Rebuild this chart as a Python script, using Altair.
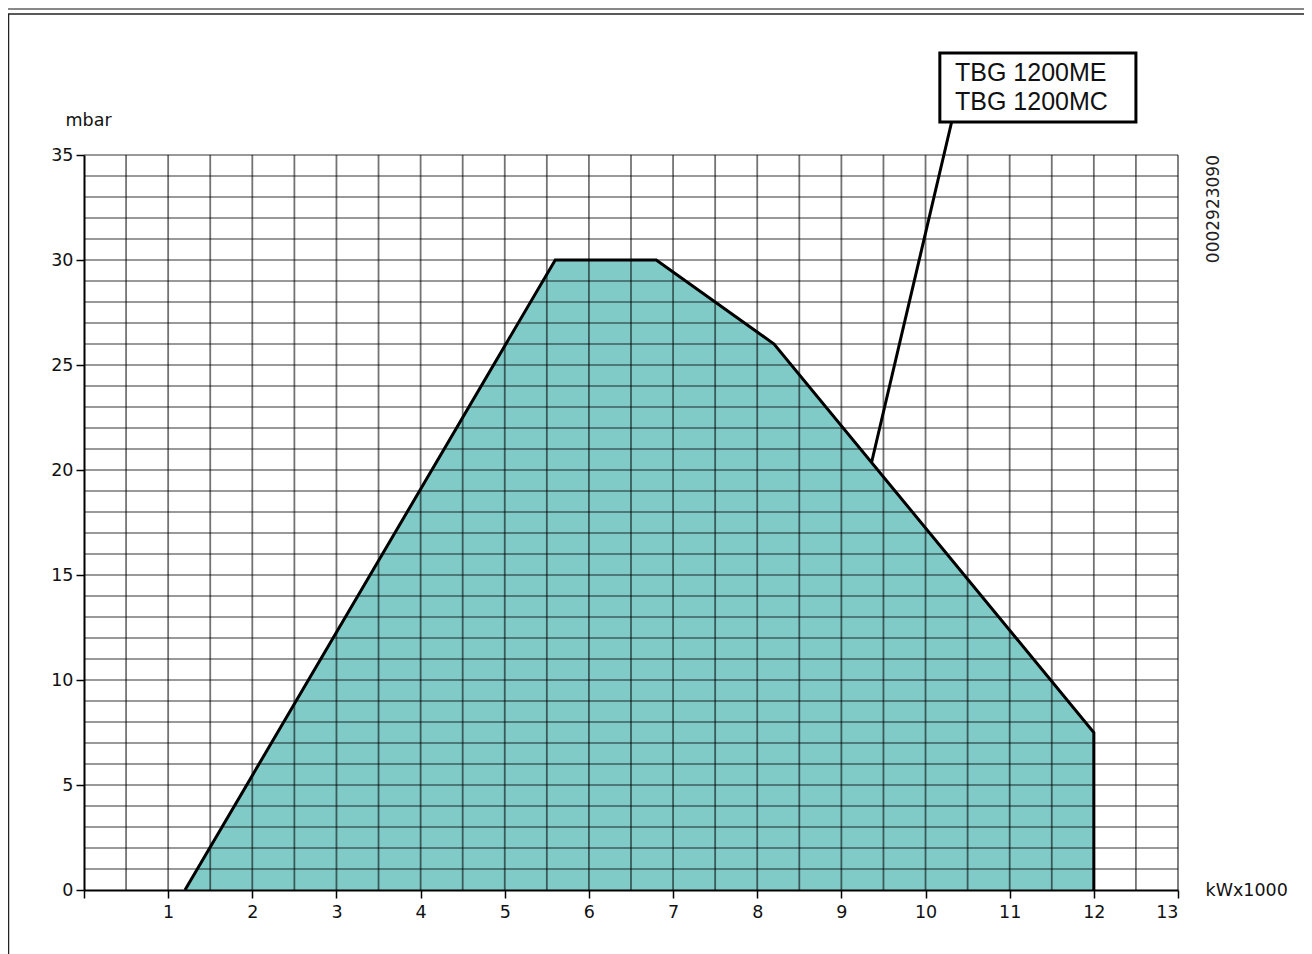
import altair as alt
import pandas as pd

# ---- data ----
env_x = [1.2, 5.6, 6.8, 8.2, 12.0, 12.0]
env_y = [0.0, 30.0, 30.0, 26.0, 7.5, 0.0]
x_ticks = [0, 1, 2, 3, 4, 5, 6, 7, 8, 9, 10, 11, 12, 13]
y_ticks = [0, 5, 10, 15, 20, 25, 30, 35]
x_grid = [0.5, 1, 1.5, 2, 2.5, 3, 3.5, 4, 4.5, 5, 5.5, 6, 6.5, 7, 7.5,
          8, 8.5, 9, 9.5, 10, 10.5, 11, 11.5, 12, 12.5, 13]
y_grid = [1, 2, 3, 4, 5, 6, 7, 8, 9, 10, 11, 12, 13, 14, 15, 16, 17, 18,
          19, 20, 21, 22, 23, 24, 25, 26, 27, 28, 29, 30, 31, 32, 33, 34, 35]
model_lines = ["TBG 1200ME", "TBG 1200MC"]
drawing_code = "0002923090"
x_title = "kWx1000"
y_title = "mbar"

W, H = 1094, 735
PAD = {"left": 76, "top": 147, "right": 126, "bottom": 64}
LBL_FONT = "DejaVu Sans"
FS = 17.5

xs = alt.Scale(domain=[0, 13], nice=False, zero=False)
ys = alt.Scale(domain=[0, 35], nice=False, zero=False)

x_axis = alt.Axis(
    values=x_ticks, grid=False, title=x_title,
    labelExpr="datum.value == 0 ? '' : datum.label",
    domainColor="#000", domainWidth=2, tickColor="#000", tickWidth=1.5,
    tickSize=8, labelFont=LBL_FONT, labelFontSize=FS, labelColor="#111",
    labelPadding=5, titleFont=LBL_FONT, titleFontSize=FS,
    titleFontWeight="normal", titleColor="#111", titleAlign="left",
    titleBaseline="middle", titleX=1121, titleY=0, zindex=1)
y_axis = alt.Axis(
    values=y_ticks, grid=False, title=y_title,
    domainColor="#000", domainWidth=2, tickColor="#000", tickWidth=1.5,
    tickSize=8, labelFont=LBL_FONT, labelFontSize=FS, labelColor="#111",
    labelPadding=3, titleFont=LBL_FONT, titleFontSize=FS,
    titleFontWeight="normal", titleColor="#111", titleAngle=0,
    titleAlign="left", titleBaseline="alphabetic", titleX=-19,
    titleY=-30, zindex=1)


def X(f="x"):
    return alt.X(f"{f}:Q", scale=xs, axis=x_axis)


def Y(f="y"):
    return alt.Y(f"{f}:Q", scale=ys, axis=y_axis)


env = pd.DataFrame({"x": env_x, "y": env_y, "o": list(range(len(env_x)))})

area = alt.Chart(env.iloc[:-1]).mark_area(color="#80CBC8", opacity=1).encode(
    x=X(), y=Y())

vgrid = alt.Chart(pd.DataFrame({"x": x_grid})).mark_rule(
    color="#000", opacity=0.55, strokeWidth=1.8).encode(x=X())

hgrid = alt.Chart(pd.DataFrame({"y": y_grid})).mark_rule(
    color="#000", opacity=0.8, strokeWidth=1.2).encode(y=Y())

outline = alt.Chart(env).mark_line(color="#000", strokeWidth=3).encode(
    x=X(), y=Y(), order="o:Q")

leader = alt.Chart(pd.DataFrame({"x": [10.31], "y": [36.57],
                                 "x2": [9.36], "y2": [20.38]})).mark_rule(
    color="#000", strokeWidth=3).encode(
    x=X(), y=Y(), x2="x2:Q", y2="y2:Q")

box = alt.Chart(pd.DataFrame({"x": [10.17], "x2": [12.5],
                              "y": [36.57], "y2": [39.86]})).mark_rect(
    fill="white", stroke="#000", strokeWidth=3).encode(
    x=X(), x2="x2:Q", y=Y(), y2="y2:Q")

box_text = alt.Chart(pd.DataFrame({"t": model_lines, "x": [10.35, 10.35],
                                   "y": [38.9, 37.52]})).mark_text(
    font="Liberation Sans", fontSize=25, align="left", baseline="middle",
    color="#111").encode(x=X(), y=Y(), text="t:N")

code_text = alt.Chart(pd.DataFrame({"t": [drawing_code], "x": [13.43],
                                    "y": [35.0]})).mark_text(
    font=LBL_FONT, fontSize=17, angle=270, align="right", baseline="middle",
    color="#222").encode(x=X(), y=Y(), text="t:N")

# decorative page frame
frame_left = alt.Chart(pd.DataFrame({"a": [0]})).mark_rule(
    color="#222", strokeWidth=1.5).encode(
    x=alt.value(-75.5), y=alt.value(-141), y2=alt.value(H + 70))
frame_top = alt.Chart(pd.DataFrame({"a": [0]})).mark_rule(
    color="#222", strokeWidth=1.5).encode(
    x=alt.value(-76), x2=alt.value(W + 130), y=alt.value(-141))
top_grey = alt.Chart(pd.DataFrame({"a": [0]})).mark_rule(
    color="#888", strokeWidth=2).encode(
    x=alt.value(-80), x2=alt.value(W + 130), y=alt.value(-146))

chart = alt.layer(area, vgrid, hgrid, outline, leader, box, box_text,
                  code_text, frame_left, frame_top, top_grey).properties(
    width=W, height=H, padding=PAD,
    autosize=alt.AutoSizeParams(type="none"),
    background="white",
).configure_view(stroke=None)

chart.save("out.html", embed_options={"renderer": "svg", "actions": False})
